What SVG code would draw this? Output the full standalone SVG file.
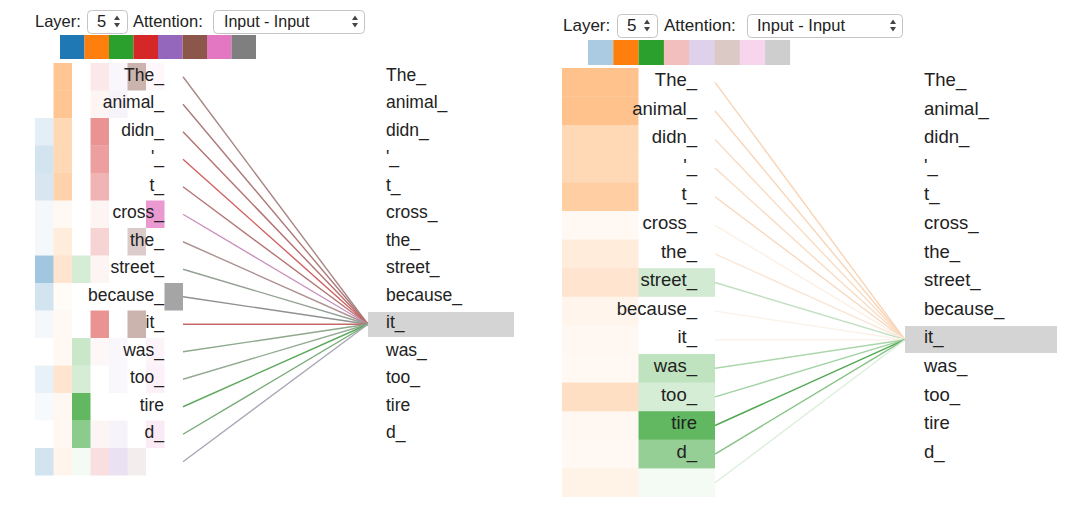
<svg xmlns="http://www.w3.org/2000/svg" width="1080" height="506" viewBox="0 0 1080 506">
<style>
text{font-family:"Liberation Sans",Arial,Helvetica,sans-serif;fill:#222}
.lbl{font-size:16.5px}
.tokL{font-size:17.5px}
.tokR{font-size:18.5px}
.sel{fill:#fff;stroke:#c4c4c4;stroke-width:1}
.arr{fill:#444}
.c0{fill:#1f77b4}.c1{fill:#ff7f0e}.c2{fill:#2ca02c}.c3{fill:#d62728}
.c4{fill:#9467bd}.c5{fill:#8c564b}.c6{fill:#e377c2}.c7{fill:#7f7f7f}
.hl{fill:#d4d4d4}
.ln{fill:none;stroke-width:1.4}
</style>
<rect width="1080" height="506" fill="#fff"/>

<!-- LEFT PANEL HEADER -->
<g id="left-header">
<text class="lbl" x="35" y="27">Layer:</text>
<rect class="sel" x="87.5" y="10.5" width="40" height="23" rx="4"/>
<text class="lbl" x="97" y="27">5</text>
<polygon class="arr" points="114,20 117,15.5 120,20"/><polygon class="arr" points="114,23 117,27.5 120,23"/>
<text class="lbl" x="133" y="27">Attention:</text>
<rect class="sel" x="213.5" y="10.5" width="151" height="23" rx="4"/>
<text class="lbl" x="224" y="27" style="font-size:16px">Input - Input</text>
<polygon class="arr" points="352,20 355,15.5 358,20"/><polygon class="arr" points="352,23 355,27.5 358,23"/>
</g>
<g id="left-swatches">
<rect class="c0" x="60" y="35" width="24.5" height="24"/>
<rect class="c1" x="84.5" y="35" width="24.5" height="24"/>
<rect class="c2" x="109" y="35" width="24.5" height="24"/>
<rect class="c3" x="133.5" y="35" width="24.5" height="24"/>
<rect class="c4" x="158" y="35" width="24.5" height="24"/>
<rect class="c5" x="182.5" y="35" width="24.5" height="24"/>
<rect class="c6" x="207" y="35" width="24.5" height="24"/>
<rect class="c7" x="231.5" y="35" width="24.5" height="24"/>
</g>

<!-- LEFT HEATMAP -->
<g id="left-heat">
<rect class="c0" x="35" y="118" width="18.5" height="27.5" opacity=".12"/>
<rect class="c0" x="35" y="145.5" width="18.5" height="27.5" opacity=".2"/>
<rect class="c0" x="35" y="173" width="18.5" height="27.5" opacity=".18"/>
<rect class="c0" x="35" y="200.5" width="18.5" height="27.5" opacity=".05"/>
<rect class="c0" x="35" y="228" width="18.5" height="27.5" opacity=".05"/>
<rect class="c0" x="35" y="255.5" width="18.5" height="27.5" opacity=".42"/>
<rect class="c0" x="35" y="283" width="18.5" height="27.5" opacity=".2"/>
<rect class="c0" x="35" y="310.5" width="18.5" height="27.5" opacity=".05"/>
<rect class="c0" x="35" y="365.5" width="18.5" height="27.5" opacity=".1"/>
<rect class="c0" x="35" y="393" width="18.5" height="27.5" opacity=".04"/>
<rect class="c0" x="35" y="448" width="18.5" height="27.5" opacity=".2"/>
<rect class="c1" x="53.5" y="63" width="18.5" height="27.5" opacity=".45"/>
<rect class="c1" x="53.5" y="90.5" width="18.5" height="27.5" opacity=".45"/>
<rect class="c1" x="53.5" y="118" width="18.5" height="27.5" opacity=".3"/>
<rect class="c1" x="53.5" y="145.5" width="18.5" height="27.5" opacity=".3"/>
<rect class="c1" x="53.5" y="173" width="18.5" height="27.5" opacity=".35"/>
<rect class="c1" x="53.5" y="200.5" width="18.5" height="27.5" opacity=".05"/>
<rect class="c1" x="53.5" y="228" width="18.5" height="27.5" opacity=".15"/>
<rect class="c1" x="53.5" y="255.5" width="18.5" height="27.5" opacity=".2"/>
<rect class="c1" x="53.5" y="283" width="18.5" height="27.5" opacity=".03"/>
<rect class="c1" x="53.5" y="310.5" width="18.5" height="27.5" opacity=".05"/>
<rect class="c1" x="53.5" y="338" width="18.5" height="27.5" opacity=".05"/>
<rect class="c1" x="53.5" y="365.5" width="18.5" height="27.5" opacity=".2"/>
<rect class="c1" x="53.5" y="393" width="18.5" height="27.5" opacity=".06"/>
<rect class="c1" x="53.5" y="420.5" width="18.5" height="27.5" opacity=".06"/>
<rect class="c1" x="53.5" y="448" width="18.5" height="27.5" opacity=".08"/>
<rect class="c2" x="72" y="255.5" width="18.5" height="27.5" opacity=".2"/>
<rect class="c2" x="72" y="338" width="18.5" height="27.5" opacity=".25"/>
<rect class="c2" x="72" y="365.5" width="18.5" height="27.5" opacity=".2"/>
<rect class="c2" x="72" y="393" width="18.5" height="27.5" opacity=".75"/>
<rect class="c2" x="72" y="420.5" width="18.5" height="27.5" opacity=".55"/>
<rect class="c2" x="72" y="448" width="18.5" height="27.5" opacity=".05"/>
<rect class="c3" x="90.5" y="63" width="18.5" height="27.5" opacity=".1"/>
<rect class="c3" x="90.5" y="90.5" width="18.5" height="27.5" opacity=".05"/>
<rect class="c3" x="90.5" y="118" width="18.5" height="27.5" opacity=".5"/>
<rect class="c3" x="90.5" y="145.5" width="18.5" height="27.5" opacity=".45"/>
<rect class="c3" x="90.5" y="173" width="18.5" height="27.5" opacity=".35"/>
<rect class="c3" x="90.5" y="200.5" width="18.5" height="27.5" opacity=".05"/>
<rect class="c3" x="90.5" y="228" width="18.5" height="27.5" opacity=".2"/>
<rect class="c3" x="90.5" y="255.5" width="18.5" height="27.5" opacity=".05"/>
<rect class="c3" x="90.5" y="310.5" width="18.5" height="27.5" opacity=".5"/>
<rect class="c3" x="90.5" y="338" width="18.5" height="27.5" opacity=".04"/>
<rect class="c3" x="90.5" y="420.5" width="18.5" height="27.5" opacity=".05"/>
<rect class="c3" x="90.5" y="448" width="18.5" height="27.5" opacity=".15"/>
<rect class="c4" x="109" y="63" width="18.5" height="27.5" opacity=".05"/>
<rect class="c4" x="109" y="90.5" width="18.5" height="27.5" opacity=".08"/>
<rect class="c4" x="109" y="338" width="18.5" height="27.5" opacity=".05"/>
<rect class="c4" x="109" y="365.5" width="18.5" height="27.5" opacity=".05"/>
<rect class="c4" x="109" y="420.5" width="18.5" height="27.5" opacity=".08"/>
<rect class="c4" x="109" y="448" width="18.5" height="27.5" opacity=".2"/>
<rect class="c5" x="127.5" y="63" width="18.5" height="27.5" opacity=".45"/>
<rect class="c5" x="127.5" y="228" width="18.5" height="27.5" opacity=".3"/>
<rect class="c5" x="127.5" y="310.5" width="18.5" height="27.5" opacity=".45"/>
<rect class="c5" x="127.5" y="448" width="18.5" height="27.5" opacity=".1"/>
<rect class="c6" x="146" y="63" width="18.5" height="27.5" opacity=".05"/>
<rect class="c6" x="146" y="200.5" width="18.5" height="27.5" opacity=".75"/>
<rect class="c6" x="146" y="338" width="18.5" height="27.5" opacity=".08"/>
<rect class="c6" x="146" y="365.5" width="18.5" height="27.5" opacity=".1"/>
<rect class="c6" x="146" y="420.5" width="18.5" height="27.5" opacity=".15"/>
<rect class="c7" x="164.5" y="283" width="18.5" height="27.5" opacity=".7"/>
</g>

<!-- LEFT CONNECTORS -->
<g id="left-connectors">
<line class="ln" x1="183" y1="76.75" x2="368" y2="324.25" stroke="#a88686"/>
<line class="ln" x1="183" y1="104.25" x2="368" y2="324.25" stroke="#ad7878"/>
<line class="ln" x1="183" y1="131.75" x2="368" y2="324.25" stroke="#b47070"/>
<line class="ln" x1="183" y1="159.25" x2="368" y2="324.25" stroke="#d06060"/>
<line class="ln" x1="183" y1="186.75" x2="368" y2="324.25" stroke="#b47474"/>
<line class="ln" x1="183" y1="214.25" x2="368" y2="324.25" stroke="#c890bc"/>
<line class="ln" x1="183" y1="241.75" x2="368" y2="324.25" stroke="#b09090"/>
<line class="ln" x1="183" y1="269.25" x2="368" y2="324.25" stroke="#94a094"/>
<line class="ln" x1="183" y1="296.75" x2="368" y2="324.25" stroke="#909090"/>
<line class="ln" x1="183" y1="324.25" x2="368" y2="324.25" stroke="#c46868"/>
<line class="ln" x1="183" y1="351.75" x2="368" y2="324.25" stroke="#8ea88e"/>
<line class="ln" x1="183" y1="379.25" x2="368" y2="324.25" stroke="#92aa92"/>
<line class="ln" x1="183" y1="406.75" x2="368" y2="324.25" stroke="#5ea85e"/>
<line class="ln" x1="183" y1="434.25" x2="368" y2="324.25" stroke="#76aa76"/>
<line class="ln" x1="183" y1="461.75" x2="368" y2="324.25" stroke="#a8a8b6"/>
</g>

<!-- LEFT TOKENS (source) -->
<g id="left-src-tokens" text-anchor="end">
<text class="tokL" x="164" y="80.5">The_</text>
<text class="tokL" x="164" y="108">animal_</text>
<text class="tokL" x="164" y="135.5">didn_</text>
<text class="tokL" x="164" y="163">'_</text>
<text class="tokL" x="164" y="190.5">t_</text>
<text class="tokL" x="164" y="218">cross_</text>
<text class="tokL" x="164" y="245.5">the_</text>
<text class="tokL" x="164" y="273">street_</text>
<text class="tokL" x="164" y="300.5">because_</text>
<text class="tokL" x="164" y="328">it_</text>
<text class="tokL" x="164" y="355.5">was_</text>
<text class="tokL" x="164" y="383">too_</text>
<text class="tokL" x="164" y="410.5">tire</text>
<text class="tokL" x="164" y="438">d_</text>
</g>

<!-- LEFT TOKENS (target) -->
<g id="left-tgt-tokens">
<rect class="hl" x="368" y="312" width="146" height="25"/>
<text class="tokL" x="386" y="80.5">The_</text>
<text class="tokL" x="386" y="108">animal_</text>
<text class="tokL" x="386" y="135.5">didn_</text>
<text class="tokL" x="386" y="163">'_</text>
<text class="tokL" x="386" y="190.5">t_</text>
<text class="tokL" x="386" y="218">cross_</text>
<text class="tokL" x="386" y="245.5">the_</text>
<text class="tokL" x="386" y="273">street_</text>
<text class="tokL" x="386" y="300.5">because_</text>
<text class="tokL" x="386" y="328">it_</text>
<text class="tokL" x="386" y="355.5">was_</text>
<text class="tokL" x="386" y="383">too_</text>
<text class="tokL" x="386" y="410.5">tire</text>
<text class="tokL" x="386" y="438">d_</text>
</g>

<!-- RIGHT PANEL HEADER -->
<g id="right-header">
<text class="lbl" x="563" y="31" style="font-size:17px">Layer:</text>
<rect class="sel" x="617.5" y="14.5" width="40" height="23" rx="4"/>
<text class="lbl" x="627" y="31" style="font-size:17px">5</text>
<polygon class="arr" points="644,24 647,19.5 650,24"/><polygon class="arr" points="644,27 647,31.5 650,27"/>
<text class="lbl" x="664" y="31" style="font-size:17px">Attention:</text>
<rect class="sel" x="747.5" y="14.5" width="155" height="23" rx="4"/>
<text class="lbl" x="757" y="31" style="font-size:16.5px">Input - Input</text>
<polygon class="arr" points="890,24 893,19.5 896,24"/><polygon class="arr" points="890,27 893,31.5 896,27"/>
</g>
<g id="right-swatches">
<rect class="c0" x="588" y="40" width="25.3" height="25" opacity=".38"/>
<rect class="c1" x="613.3" y="40" width="25.3" height="25"/>
<rect class="c2" x="638.6" y="40" width="25.3" height="25"/>
<rect class="c3" x="663.9" y="40" width="25.3" height="25" opacity=".3"/>
<rect class="c4" x="689.2" y="40" width="25.3" height="25" opacity=".3"/>
<rect class="c5" x="714.5" y="40" width="25.3" height="25" opacity=".32"/>
<rect class="c6" x="739.8" y="40" width="25.3" height="25" opacity=".3"/>
<rect class="c7" x="765.1" y="40" width="25" height="25" opacity=".38"/>
</g>

<!-- RIGHT HEATMAP -->
<g id="right-heat">
<rect class="c1" x="562" y="68" width="76.5" height="28.6" opacity=".48"/>
<rect class="c1" x="562" y="96.6" width="76.5" height="28.6" opacity=".48"/>
<rect class="c1" x="562" y="125.2" width="76.5" height="28.6" opacity=".3"/>
<rect class="c1" x="562" y="153.8" width="76.5" height="28.6" opacity=".3"/>
<rect class="c1" x="562" y="182.4" width="76.5" height="28.6" opacity=".38"/>
<rect class="c1" x="562" y="211" width="76.5" height="28.6" opacity=".05"/>
<rect class="c1" x="562" y="239.6" width="76.5" height="28.6" opacity=".15"/>
<rect class="c1" x="562" y="268.2" width="76.5" height="28.6" opacity=".2"/>
<rect class="c1" x="562" y="296.8" width="76.5" height="28.6" opacity=".08"/>
<rect class="c1" x="562" y="325.4" width="76.5" height="28.6" opacity=".06"/>
<rect class="c1" x="562" y="354" width="76.5" height="28.6" opacity=".05"/>
<rect class="c1" x="562" y="382.6" width="76.5" height="28.6" opacity=".25"/>
<rect class="c1" x="562" y="411.2" width="76.5" height="28.6" opacity=".06"/>
<rect class="c1" x="562" y="439.8" width="76.5" height="28.6" opacity=".05"/>
<rect class="c1" x="562" y="468.4" width="76.5" height="28.6" opacity=".1"/>
<rect class="c2" x="638.5" y="268.2" width="76.5" height="28.6" opacity=".22"/>
<rect class="c2" x="638.5" y="354" width="76.5" height="28.6" opacity=".3"/>
<rect class="c2" x="638.5" y="382.6" width="76.5" height="28.6" opacity=".2"/>
<rect class="c2" x="638.5" y="411.2" width="76.5" height="28.6" opacity=".75"/>
<rect class="c2" x="638.5" y="439.8" width="76.5" height="28.6" opacity=".5"/>
<rect class="c2" x="638.5" y="468.4" width="76.5" height="28.6" opacity=".05"/>
</g>

<!-- RIGHT CONNECTORS -->
<g id="right-connectors">
<line class="ln" x1="715" y1="82.3" x2="905" y2="339.7" stroke="#f8d4b6"/>
<line class="ln" x1="715" y1="110.9" x2="905" y2="339.7" stroke="#f8d4b6"/>
<line class="ln" x1="715" y1="139.5" x2="905" y2="339.7" stroke="#f9dcc4"/>
<line class="ln" x1="715" y1="168.1" x2="905" y2="339.7" stroke="#f9dcc4"/>
<line class="ln" x1="715" y1="196.7" x2="905" y2="339.7" stroke="#f8d8bc"/>
<line class="ln" x1="715" y1="225.3" x2="905" y2="339.7" stroke="#fcf0e6"/>
<line class="ln" x1="715" y1="253.9" x2="905" y2="339.7" stroke="#fae6d6"/>
<line class="ln" x1="715" y1="282.5" x2="905" y2="339.7" stroke="#bfdfbf"/>
<line class="ln" x1="715" y1="311.1" x2="905" y2="339.7" stroke="#fbf2ea"/>
<line class="ln" x1="715" y1="339.7" x2="905" y2="339.7" stroke="#fbf2ea"/>
<line class="ln" x1="715" y1="368.3" x2="905" y2="339.7" stroke="#acd6ac"/>
<line class="ln" x1="715" y1="396.9" x2="905" y2="339.7" stroke="#a2d2a2"/>
<line class="ln" x1="715" y1="425.5" x2="905" y2="339.7" stroke="#52a852"/>
<line class="ln" x1="715" y1="454.1" x2="905" y2="339.7" stroke="#86c286"/>
<line class="ln" x1="715" y1="482.7" x2="905" y2="339.7" stroke="#dcefdc"/>
</g>

<!-- RIGHT TOKENS (source) -->
<g id="right-src-tokens" text-anchor="end">
<text class="tokR" x="697" y="86">The_</text>
<text class="tokR" x="697" y="114.6">animal_</text>
<text class="tokR" x="697" y="143.2">didn_</text>
<text class="tokR" x="697" y="171.8">'_</text>
<text class="tokR" x="697" y="200.4">t_</text>
<text class="tokR" x="697" y="229">cross_</text>
<text class="tokR" x="697" y="257.6">the_</text>
<text class="tokR" x="697" y="286.2">street_</text>
<text class="tokR" x="697" y="314.8">because_</text>
<text class="tokR" x="697" y="343.4">it_</text>
<text class="tokR" x="697" y="372">was_</text>
<text class="tokR" x="697" y="400.6">too_</text>
<text class="tokR" x="697" y="429.2">tire</text>
<text class="tokR" x="697" y="457.8">d_</text>
</g>

<!-- RIGHT TOKENS (target) -->
<g id="right-tgt-tokens">
<rect class="hl" x="905" y="326" width="152" height="27"/>
<text class="tokR" x="924" y="86">The_</text>
<text class="tokR" x="924" y="114.6">animal_</text>
<text class="tokR" x="924" y="143.2">didn_</text>
<text class="tokR" x="924" y="171.8">'_</text>
<text class="tokR" x="924" y="200.4">t_</text>
<text class="tokR" x="924" y="229">cross_</text>
<text class="tokR" x="924" y="257.6">the_</text>
<text class="tokR" x="924" y="286.2">street_</text>
<text class="tokR" x="924" y="314.8">because_</text>
<text class="tokR" x="924" y="343.4">it_</text>
<text class="tokR" x="924" y="372">was_</text>
<text class="tokR" x="924" y="400.6">too_</text>
<text class="tokR" x="924" y="429.2">tire</text>
<text class="tokR" x="924" y="457.8">d_</text>
</g>
</svg>
